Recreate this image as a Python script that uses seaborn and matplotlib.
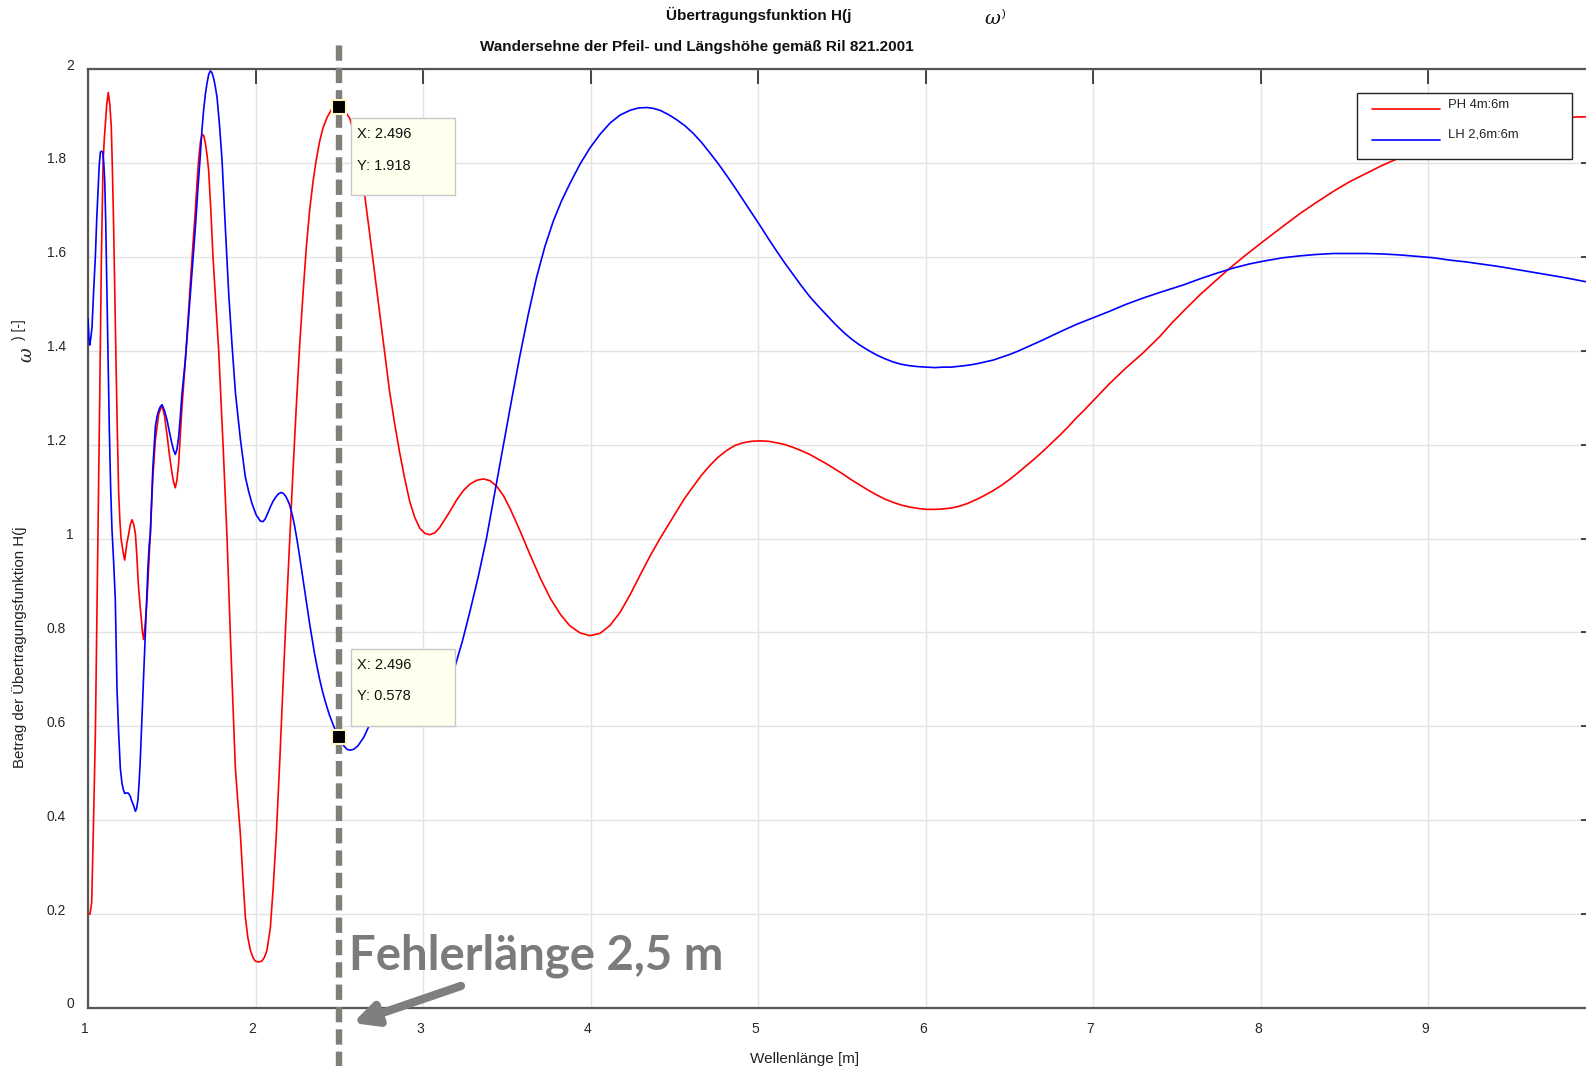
import matplotlib
matplotlib.use("Agg")
import matplotlib.pyplot as plt
from matplotlib.patches import Rectangle
from matplotlib.lines import Line2D
from matplotlib.transforms import IdentityTransform, ScaledTranslation
import pandas as pd
import seaborn as sns

# ---- data -------------------------------------------------------------
red_x = [1.000, 1.012, 1.022, 1.032, 1.044, 1.052, 1.060, 1.070, 1.080, 1.090,
         1.097, 1.103, 1.112, 1.121, 1.130, 1.139, 1.146, 1.153, 1.160, 1.167,
         1.175, 1.183, 1.190, 1.197, 1.210, 1.219, 1.232, 1.243, 1.253, 1.263,
         1.273, 1.283, 1.292, 1.300, 1.310, 1.318, 1.325, 1.332, 1.342, 1.352,
         1.362, 1.372, 1.387, 1.402, 1.422, 1.442, 1.457, 1.472, 1.487, 1.501,
         1.511, 1.521, 1.531, 1.541, 1.551, 1.561, 1.571, 1.581, 1.596, 1.611,
         1.626, 1.641, 1.651, 1.661, 1.671, 1.681, 1.691, 1.701, 1.711, 1.720,
         1.733, 1.746, 1.763, 1.780, 1.793, 1.806, 1.818, 1.830, 1.849, 1.864,
         1.879, 1.894, 1.909, 1.924, 1.939, 1.954, 1.969, 1.984, 1.998, 2.018,
         2.038, 2.053, 2.068, 2.088, 2.106, 2.124, 2.145, 2.163, 2.183, 2.203,
         2.223, 2.243, 2.263, 2.283, 2.303, 2.323, 2.343, 2.363, 2.382, 2.402,
         2.427, 2.452, 2.474, 2.496, 2.530, 2.562, 2.590, 2.620, 2.650, 2.680,
         2.710, 2.740, 2.770, 2.800, 2.830, 2.860, 2.890, 2.920, 2.950, 2.980,
         3.010, 3.040, 3.070, 3.100, 3.150, 3.200, 3.240, 3.280, 3.320, 3.360,
         3.400, 3.440, 3.480, 3.520, 3.580, 3.640, 3.700, 3.760, 3.820, 3.876,
         3.936, 3.996, 4.056, 4.116, 4.176, 4.235, 4.295, 4.355, 4.414, 4.470,
         4.513, 4.560, 4.612, 4.660, 4.710, 4.760, 4.810, 4.860, 4.910, 4.960,
         5.010, 5.060, 5.109, 5.160, 5.209, 5.258, 5.308, 5.358, 5.408, 5.458,
         5.507, 5.556, 5.606, 5.656, 5.706, 5.755, 5.805, 5.855, 5.905, 5.955,
         6.004, 6.054, 6.103, 6.153, 6.203, 6.252, 6.302, 6.352, 6.402, 6.451,
         6.501, 6.550, 6.600, 6.650, 6.700, 6.750, 6.800, 6.850, 6.899, 6.950,
         6.998, 7.097, 7.197, 7.296, 7.396, 7.466, 7.537, 7.636, 7.736, 7.805,
         7.900, 8.000, 8.117, 8.233, 8.332, 8.431, 8.530, 8.630, 8.720, 8.809,
         8.900, 9.000, 9.100, 9.200, 9.300, 9.400, 9.500, 9.600, 9.700, 9.800,
         9.900, 10.000]
red_y = [0.200, 0.200, 0.225, 0.380, 0.585, 0.800, 1.010, 1.300, 1.600, 1.800,
         1.850, 1.880, 1.925, 1.950, 1.925, 1.877, 1.780, 1.664, 1.520, 1.380,
         1.230, 1.097, 1.040, 1.000, 0.970, 0.954, 0.990, 1.010, 1.030, 1.040,
         1.030, 1.010, 0.960, 0.904, 0.860, 0.830, 0.800, 0.785, 0.820, 0.869,
         0.940, 1.010, 1.130, 1.210, 1.265, 1.284, 1.260, 1.220, 1.175, 1.140,
         1.120, 1.108, 1.125, 1.160, 1.220, 1.280, 1.330, 1.380, 1.460, 1.545,
         1.625, 1.700, 1.760, 1.810, 1.845, 1.861, 1.858, 1.841, 1.815, 1.784,
         1.700, 1.600, 1.500, 1.400, 1.300, 1.200, 1.100, 1.000, 0.800, 0.655,
         0.514, 0.440, 0.372, 0.280, 0.194, 0.150, 0.123, 0.108, 0.100, 0.098,
         0.100, 0.108, 0.123, 0.170, 0.260, 0.370, 0.530, 0.680, 0.840, 0.990,
         1.140, 1.280, 1.410, 1.520, 1.620, 1.700, 1.760, 1.808, 1.845, 1.874,
         1.897, 1.913, 1.918, 1.918, 1.912, 1.895, 1.860, 1.810, 1.735, 1.652,
         1.567, 1.483, 1.397, 1.313, 1.245, 1.183, 1.128, 1.079, 1.045, 1.022,
         1.011, 1.008, 1.012, 1.024, 1.052, 1.082, 1.102, 1.116, 1.124, 1.127,
         1.123, 1.111, 1.091, 1.063, 1.015, 0.964, 0.915, 0.872, 0.838, 0.814,
         0.799, 0.793, 0.798, 0.815, 0.843, 0.880, 0.922, 0.963, 1.000, 1.033,
         1.058, 1.085, 1.111, 1.134, 1.155, 1.173, 1.187, 1.198, 1.204, 1.207,
         1.208, 1.207, 1.204, 1.200, 1.194, 1.187, 1.179, 1.169, 1.159, 1.148,
         1.137, 1.125, 1.114, 1.103, 1.093, 1.084, 1.077, 1.071, 1.067, 1.064,
         1.062, 1.062, 1.063, 1.065, 1.069, 1.075, 1.083, 1.092, 1.102, 1.113,
         1.126, 1.140, 1.155, 1.170, 1.186, 1.203, 1.220, 1.238, 1.257, 1.275,
         1.293, 1.330, 1.364, 1.395, 1.430, 1.458, 1.484, 1.519, 1.551, 1.573,
         1.601, 1.629, 1.661, 1.692, 1.716, 1.739, 1.760, 1.778, 1.794, 1.808,
         1.822, 1.836, 1.849, 1.860, 1.870, 1.878, 1.885, 1.890, 1.894, 1.896,
         1.898, 1.898]

blue_x = [1.000, 1.005, 1.010, 1.016, 1.024, 1.034, 1.044, 1.052, 1.060, 1.067,
          1.074, 1.081, 1.088, 1.094, 1.100, 1.106, 1.113, 1.120, 1.127, 1.135,
          1.143, 1.153, 1.163, 1.173, 1.183, 1.193, 1.203, 1.211, 1.219, 1.229,
          1.239, 1.246, 1.253, 1.260, 1.267, 1.275, 1.283, 1.290, 1.298, 1.305,
          1.312, 1.319, 1.326, 1.334, 1.342, 1.350, 1.358, 1.365, 1.372, 1.387,
          1.402, 1.412, 1.422, 1.432, 1.442, 1.457, 1.472, 1.487, 1.501, 1.511,
          1.521, 1.531, 1.541, 1.551, 1.561, 1.571, 1.581, 1.596, 1.611, 1.626,
          1.641, 1.656, 1.671, 1.680, 1.690, 1.700, 1.710, 1.720, 1.730, 1.740,
          1.750, 1.760, 1.770, 1.785, 1.800, 1.820, 1.840, 1.860, 1.880, 1.910,
          1.939, 1.959, 1.979, 2.004, 2.029, 2.045, 2.058, 2.073, 2.088, 2.104,
          2.120, 2.136, 2.153, 2.166, 2.178, 2.190, 2.203, 2.218, 2.233, 2.248,
          2.263, 2.278, 2.293, 2.308, 2.323, 2.338, 2.352, 2.367, 2.382, 2.397,
          2.412, 2.427, 2.442, 2.469, 2.496, 2.515, 2.530, 2.546, 2.562, 2.586,
          2.610, 2.645, 2.680, 2.720, 2.780, 2.850, 2.950, 3.050, 3.120, 3.190,
          3.235, 3.279, 3.330, 3.378, 3.428, 3.478, 3.528, 3.578, 3.628, 3.677,
          3.727, 3.777, 3.826, 3.876, 3.936, 3.996, 4.056, 4.116, 4.176, 4.235,
          4.285, 4.335, 4.375, 4.414, 4.464, 4.513, 4.563, 4.612, 4.661, 4.710,
          4.760, 4.810, 4.860, 4.910, 4.960, 5.010, 5.060, 5.110, 5.160, 5.209,
          5.258, 5.308, 5.358, 5.408, 5.458, 5.507, 5.556, 5.606, 5.656, 5.706,
          5.755, 5.805, 5.855, 5.905, 5.955, 6.004, 6.054, 6.103, 6.153, 6.203,
          6.252, 6.302, 6.352, 6.402, 6.451, 6.501, 6.550, 6.600, 6.700, 6.800,
          6.899, 6.998, 7.097, 7.197, 7.296, 7.396, 7.466, 7.537, 7.636, 7.736,
          7.835, 7.934, 8.034, 8.133, 8.233, 8.332, 8.431, 8.531, 8.630, 8.730,
          8.829, 8.928, 9.028, 9.127, 9.227, 9.326, 9.426, 9.525, 9.625, 9.724,
          9.823, 9.922, 10.000]
blue_y = [1.468, 1.430, 1.412, 1.425, 1.450, 1.530, 1.600, 1.680, 1.740, 1.795,
          1.823, 1.825, 1.823, 1.800, 1.760, 1.670, 1.520, 1.380, 1.238, 1.110,
          1.020, 0.950, 0.870, 0.680, 0.585, 0.510, 0.478, 0.465, 0.457, 0.458,
          0.458, 0.455, 0.450, 0.442, 0.436, 0.428, 0.419, 0.425, 0.443, 0.480,
          0.528, 0.590, 0.656, 0.727, 0.798, 0.870, 0.940, 0.985, 1.010, 1.150,
          1.238, 1.260, 1.273, 1.281, 1.285, 1.272, 1.252, 1.225, 1.202, 1.188,
          1.179, 1.190, 1.216, 1.260, 1.309, 1.345, 1.380, 1.450, 1.520, 1.592,
          1.664, 1.745, 1.820, 1.870, 1.912, 1.945, 1.969, 1.988, 1.996, 1.992,
          1.980, 1.962, 1.940, 1.880, 1.806, 1.660, 1.520, 1.410, 1.310, 1.210,
          1.131, 1.100, 1.074, 1.050, 1.037, 1.036, 1.042, 1.054, 1.067, 1.079,
          1.088, 1.095, 1.098, 1.096, 1.091, 1.083, 1.072, 1.052, 1.027, 0.996,
          0.962, 0.926, 0.890, 0.853, 0.818, 0.785, 0.755, 0.727, 0.701, 0.678,
          0.658, 0.640, 0.623, 0.598, 0.578, 0.565, 0.557, 0.551, 0.549, 0.551,
          0.558, 0.576, 0.603, 0.630, 0.660, 0.675, 0.688, 0.698, 0.708, 0.727,
          0.782, 0.844, 0.920, 1.000, 1.098, 1.196, 1.295, 1.390, 1.478, 1.556,
          1.622, 1.676, 1.719, 1.756, 1.797, 1.832, 1.861, 1.885, 1.902, 1.912,
          1.917, 1.918, 1.916, 1.912, 1.903, 1.892, 1.879, 1.863, 1.844, 1.822,
          1.799, 1.774, 1.748, 1.721, 1.694, 1.667, 1.639, 1.612, 1.586, 1.562,
          1.538, 1.515, 1.495, 1.476, 1.457, 1.440, 1.425, 1.412, 1.401, 1.391,
          1.383, 1.376, 1.371, 1.368, 1.366, 1.365, 1.364, 1.365, 1.365, 1.367,
          1.369, 1.372, 1.376, 1.380, 1.386, 1.392, 1.399, 1.407, 1.423, 1.440,
          1.456, 1.470, 1.484, 1.499, 1.512, 1.524, 1.532, 1.540, 1.553, 1.565,
          1.576, 1.585, 1.592, 1.598, 1.602, 1.605, 1.607, 1.607, 1.607, 1.606,
          1.604, 1.601, 1.598, 1.593, 1.589, 1.584, 1.579, 1.573, 1.567, 1.561,
          1.555, 1.548, 1.543]

series_names = ["PH 4m:6m", "LH 2,6m:6m"]
series_colors = ["#ff0000", "#0000ff"]

fault_x = 2.496
tip_values = [1.918, 0.578]
tip_sides = ["below", "above"]

x_ticks = [1, 2, 3, 4, 5, 6, 7, 8, 9, 10]
x_tick_labels = ["1", "2", "3", "4", "5", "6", "7", "8", "9", ""]
y_ticks = [0.0, 0.2, 0.4, 0.6, 0.8, 1.0, 1.2, 1.4, 1.6, 1.8, 2.0]
y_tick_labels = ["0", "0.2", "0.4", "0.6", "0.8", "1", "1.2", "1.4", "1.6", "1.8", "2"]

# ---- figure -----------------------------------------------------------
sns.set_style("white")
plt.rcParams["font.family"] = ["Liberation Sans", "DejaVu Sans"]

W, H = 1586, 1066
fig = plt.figure(figsize=(W / 100, H / 100), dpi=100)
# axes box runs slightly past the right edge of the canvas
ax = fig.add_axes([88 / W, 1 - 1008 / H, (1596 - 88) / W, (1008 - 69) / H])

frames = [pd.DataFrame({"x": red_x, "y": red_y}),
          pd.DataFrame({"x": blue_x, "y": blue_y})]
for df, col in zip(frames, series_colors):
    sns.lineplot(data=df, x="x", y="y", ax=ax, color=col, lw=1.2,
                 sort=False, estimator=None, legend=False, zorder=3)

ax.set_xlim(1, 10)
ax.set_ylim(0, 2)
ax.set_xticks(x_ticks)
ax.set_xticklabels(x_tick_labels)
ax.set_yticks(y_ticks)
ax.set_yticklabels(y_tick_labels)
ax.set_xlabel("")
ax.set_ylabel("")
ax.grid(True, color="#e3e3e3", lw=1)
ax.set_axisbelow(True)
ax.tick_params(direction="in", length=11, width=1.2, color="#262626",
               top=True, right=True, labelsize=10, pad=10, labelcolor="#262626")
for s in ax.spines.values():
    s.set_color("#555555")
    s.set_linewidth(1.6)

# tick label nudges: decimal y labels sit a little further left, all y labels a bit higher
for lab in ax.get_yticklabels():
    dx = -8 if "." in lab.get_text() else 0
    lab.set_transform(lab.get_transform() + ScaledTranslation(dx / 100, 5 / 100, fig.dpi_scale_trans))
for lab in ax.get_xticklabels():
    lab.set_transform(lab.get_transform() + ScaledTranslation(-3 / 100, 0, fig.dpi_scale_trans))

# legend box
L, T, R, B = 1357, 93, 1572, 159
fig.add_artist(Rectangle((L / W, 1 - B / H), (R - L) / W, (B - T) / H,
                         transform=fig.transFigure, facecolor="white",
                         edgecolor="#222222", lw=1.0, zorder=9))
for i, (name, col) in enumerate(zip(series_names, series_colors)):
    y_line = 109 + 31 * i
    y_text = 105 + 29.5 * i
    fig.add_artist(Line2D([1372 / W, 1440 / W], [1 - y_line / H] * 2,
                          transform=fig.transFigure, color=col, lw=1.2, zorder=10))
    fig.text(1448 / W, 1 - y_text / H, name, fontsize=9.4, va="center", ha="left",
             color="#222222", zorder=10)

# vertical marker for the fault length, extends beyond the axes
ax.axvline(fault_x, ymin=-0.07, ymax=(1008 - 43) / 939, color="#7f7e78",
           lw=4.6, dashes=(2.4, 1.1), clip_on=False, zorder=4)

# data tips
fig.canvas.draw()
for val, side in zip(tip_values, tip_sides):
    ax.plot([fault_x], [val], marker="s", ms=10, color="black",
            mec="#fff6c8", mew=1.5, zorder=6, clip_on=False)
    px, py = ax.transData.transform((fault_x, val))
    top = py - 11 if side == "below" else py + 88
    rect = Rectangle((px + 12, top - 77), 104, 77, transform=IdentityTransform(),
                     facecolor="#ffffee", edgecolor="#c8c8c8", lw=1, zorder=7)
    fig.add_artist(rect)
    fig.text((px + 18) / W, (top - 16) / H, f"X: {fault_x:.3f}", fontsize=10.5,
             va="center", ha="left", color="#111111", zorder=8)
    fig.text((px + 18) / W, (top - 47.5) / H, f"Y: {val:.3f}", fontsize=10.5,
             va="center", ha="left", color="#111111", zorder=8)

# annotation of the fault length
ax.text(fault_x + 0.06, 0.111, "Fehlerlänge 2,5 m", fontsize=34, fontweight="bold",
        family=["Lato", "DejaVu Sans"], color="#7b7b7b", va="center", ha="left",
        zorder=5)
ax.annotate("", xy=(fault_x + 0.085, -0.032), xytext=(fault_x + 0.73, 0.047),
            arrowprops=dict(arrowstyle="-|>", lw=6, color="#7f7f7f",
                            mutation_scale=34, shrinkA=0, shrinkB=0),
            annotation_clip=False, zorder=5)

# titles and axis labels
fig.text(759 / W, 1 - 15 / H, "Übertragungsfunktion H(j", fontsize=11,
         fontweight="bold", ha="center", va="center", color="#111111")
fig.text(992 / W, 1 - 19 / H, "ω", fontsize=14, family="DejaVu Serif",
         style="italic", ha="center", va="center", color="#111111")
fig.text(1004 / W, 1 - 14 / H, ")", fontsize=8, ha="center", va="center",
         color="#111111")
fig.text(697 / W, 1 - 46.5 / H, "Wandersehne der Pfeil- und Längshöhe gemäß Ril 821.2001",
         fontsize=11, fontweight="bold", ha="center", va="center", color="#111111")
fig.text(805 / W, 1 - 1052 / H, "Wellenlänge [m]", fontsize=11, ha="center", va="top",
         color="#222222")
fig.text(20 / W, 1 - 647 / H, "Betrag der Übertragungsfunktion H(j", fontsize=10.8,
         rotation=90, ha="center", va="center", color="#222222")
fig.text(26 / W, 1 - 355 / H, "ω", fontsize=13, family="DejaVu Serif", style="italic",
         rotation=90, ha="center", va="center", color="#222222")
fig.text(19 / W, 1 - 330 / H, ") [-]", fontsize=10, rotation=90, ha="center",
         va="center", color="#222222")

fig.savefig("out.png", dpi=100)
